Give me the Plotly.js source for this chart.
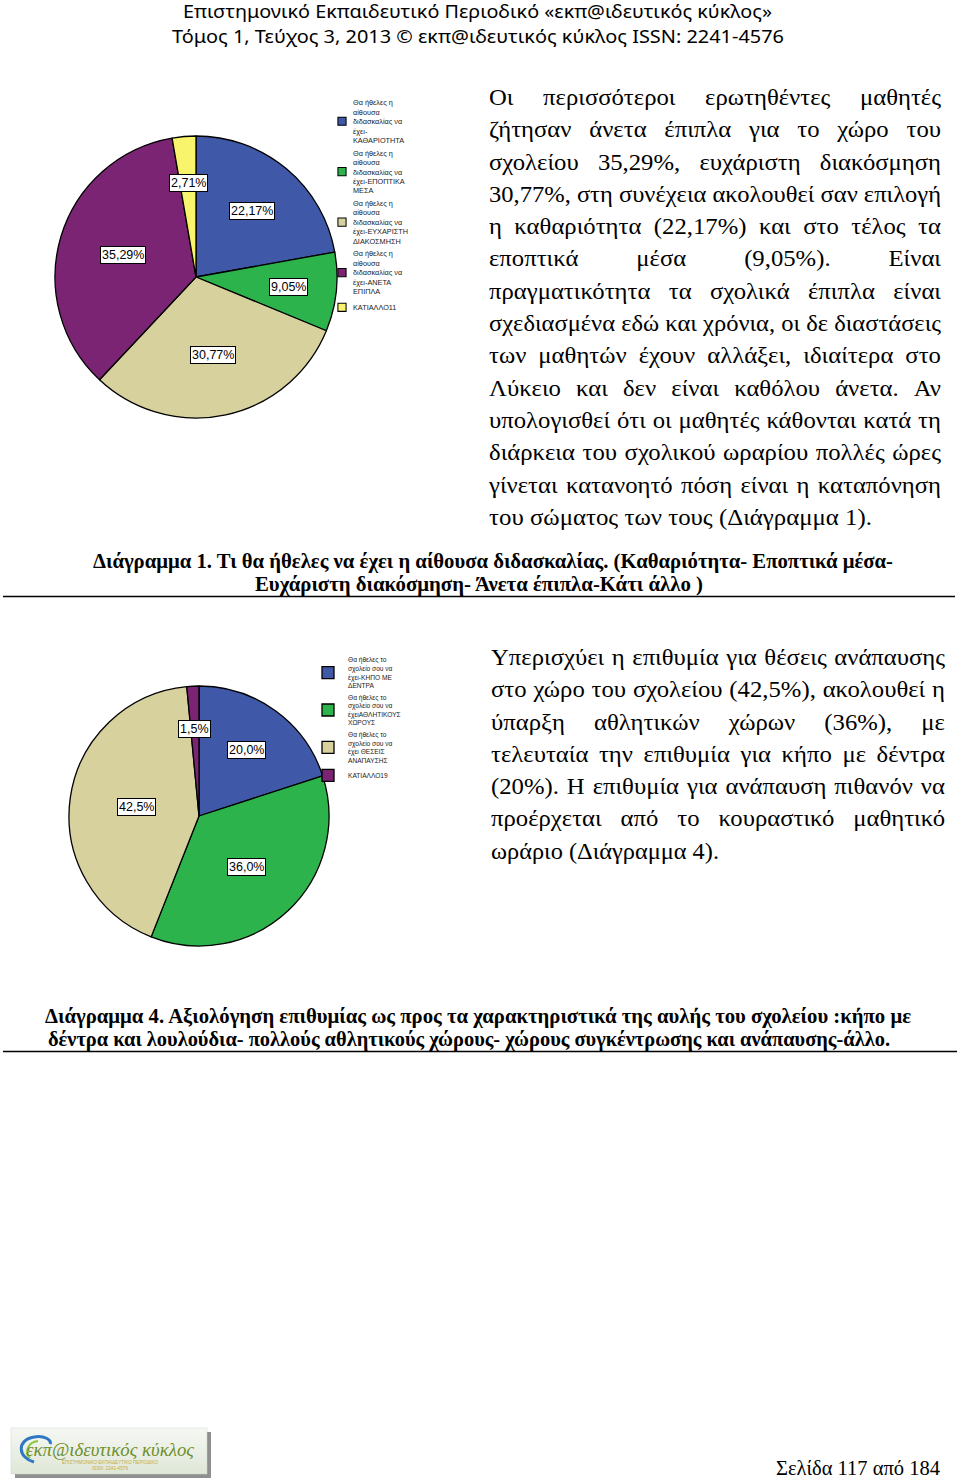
<!DOCTYPE html>
<html lang="el">
<head>
<meta charset="utf-8">
<title>Διάγραμμα 1 και Διάγραμμα 4</title>
<script src="https://cdn.plot.ly/plotly-3.0.1.min.js"></script>
<style>
html,body{margin:0;padding:0;background:#fff;}
#page{position:relative;width:960px;height:1481px;overflow:hidden;background:#fff;}
#chart{position:absolute;left:0;top:0;width:960px;height:1481px;}
#overlay{position:absolute;left:0;top:0;pointer-events:none;}
</style>
</head>
<body>
<div id="page">
  <div id="chart"></div>
  <svg id="overlay" width="960" height="1481" xmlns="http://www.w3.org/2000/svg"></svg>
</div>
<script>
// ---------------- DATA ----------------
const pie1Labels = [
  'Θα ήθελες η<br>αίθουσα<br>διδασκαλίας να<br>έχει-<br>ΚΑΘΑΡΙΟΤΗΤΑ',
  'Θα ήθελες η<br>αίθουσα<br>διδασκαλίας να<br>έχει-ΕΠΟΠΤΙΚΑ<br>ΜΕΣΑ',
  'Θα ήθελες η<br>αίθουσα<br>διδασκαλίας να<br>έχει-ΕΥΧΑΡΙΣΤΗ<br>ΔΙΑΚΟΣΜΗΣΗ',
  'Θα ήθελες η<br>αίθουσα<br>διδασκαλίας να<br>έχει-ΑΝΕΤΑ<br>ΕΠΙΠΛΑ',
  'ΚΑΤΙΑΛΛΟ11'
];
const pie1Values = [22.17, 9.05, 30.77, 35.29, 2.71];

const pie2Labels = [
  'Θα ήθελες το<br>σχολείο σου να<br>έχει-ΚΗΠΟ ΜΕ<br>ΔΕΝΤΡΑ',
  'Θα ήθελες το<br>σχολείο σου να<br>έχειΑΘΛΗΤΙΚΟΥΣ<br>ΧΩΡΟΥΣ',
  'Θα ήθελες το<br>σχολείο σου να<br>έχει ΘΕΣΕΙΣ<br>ΑΝΑΠΑΥΣΗΣ',
  'ΚΑΤΙΑΛΛΟ19'
];
const pie2Values = [20.0, 36.0, 42.5, 1.5];

const headerLines = [
  'Επιστημονικό Εκπαιδευτικό Περιοδικό «εκπ@ιδευτικός κύκλος»',
  'Τόμος 1, Τεύχος 3, 2013 © εκπ@ιδευτικός κύκλος ISSN: 2241-4576'
];
const para1Lines = [
  'Οι περισσότεροι ερωτηθέντες μαθητές',
  'ζήτησαν άνετα έπιπλα για το χώρο του',
  'σχολείου 35,29%, ευχάριστη διακόσμηση',
  '30,77%, στη συνέχεια ακολουθεί σαν επιλογή',
  'η καθαριότητα (22,17%) και  στο τέλος τα',
  'εποπτικά μέσα (9,05%). Είναι',
  'πραγματικότητα τα σχολικά έπιπλα είναι',
  'σχεδιασμένα εδώ και χρόνια, οι δε διαστάσεις',
  'των μαθητών έχουν αλλάξει,  ιδιαίτερα στο',
  'Λύκειο και δεν είναι καθόλου άνετα. Αν',
  'υπολογισθεί ότι οι μαθητές κάθονται κατά τη',
  'διάρκεια του σχολικού ωραρίου πολλές ώρες',
  'γίνεται κατανοητό πόση είναι  η καταπόνηση',
  'του  σώματος των τους (Διάγραμμα 1).'
];
const caption1Lines = [
  'Διάγραμμα  1. Τι θα ήθελες να έχει η αίθουσα  διδασκαλίας. (Καθαριότητα- Εποπτικά μέσα-',
  'Ευχάριστη διακόσμηση-  Άνετα έπιπλα-Κάτι άλλο )'
];
const para2Lines = [
  'Υπερισχύει η επιθυμία για  θέσεις ανάπαυσης',
  'στο χώρο του σχολείου (42,5%), ακολουθεί η',
  'ύπαρξη αθλητικών χώρων (36%), με',
  'τελευταία την επιθυμία για κήπο με δέντρα',
  '(20%). Η επιθυμία για ανάπαυση πιθανόν να',
  'προέρχεται από το κουραστικό μαθητικό',
  'ωράριο (Διάγραμμα 4).'
];
const caption2Lines = [
  'Διάγραμμα  4. Αξιολόγηση  επιθυμίας ως προς τα χαρακτηριστικά της αυλής του σχολείου :κήπο με',
  'δέντρα και λουλούδια- πολλούς αθλητικούς χώρους- χώρους συγκέντρωσης και ανάπαυσης-άλλο.'
];
const footerText = 'Σελίδα 117 από 184';
const logoTitle = 'εκπ@ιδευτικός κύκλος';
const logoSub = 'ΕΠΙΣΤΗΜΟΝΙΚΟ ΕΚΠΑΙΔΕΥΤΙΚΟ ΠΕΡΙΟΔΙΚΟ';
const logoSub2 = 'ISSN: 2241-4576';

// ---------------- STYLE / GEOMETRY ----------------
const W = 960, H = 1481;
const COLORS1 = ['#3F58A7', '#2DB34B', '#D6D19D', '#7B2473', '#F8F46C'];
const COLORS2 = ['#3F58A7', '#2DB34B', '#D6D19D', '#7B2473'];
const G1 = {cx: 196, cy: 277, r: 141, dec: 2};
const G2 = {cx: 199, cy: 816, r: 130, dec: 1};
const SANS = 'Liberation Sans, Arial, sans-serif';
const SERIF = 'Liberation Serif, Times New Roman, serif';

function domainOf(g) {
  return {x: [(g.cx - g.r) / W, (g.cx + g.r) / W],
          y: [1 - (g.cy + g.r) / H, 1 - (g.cy - g.r) / H]};
}
function fmt(v, dec) { return v.toFixed(dec).replace('.', ',') + '%'; }

// slice labels placed at each slice's centroid (derived from the values)
function sliceLabels(values, g) {
  const total = values.reduce((a, b) => a + b, 0);
  let cum = 0;
  return values.map(v => {
    const half = Math.PI * v / total;
    const mid = 2 * Math.PI * (cum + v / 2) / total;
    cum += v;
    const d = (2 / 3) * g.r * Math.sin(half) / half;
    const px = g.cx + d * Math.sin(mid);
    const py = g.cy - d * Math.cos(mid);
    return {
      x: px / W, y: 1 - py / H, xref: 'paper', yref: 'paper',
      xanchor: 'center', yanchor: 'middle', showarrow: false,
      text: fmt(v, g.dec),
      font: {family: SANS, size: 12.5, color: '#000'},
      bgcolor: '#ffffff', bordercolor: '#000', borderwidth: 1, borderpad: 1
    };
  });
}

const traces = [
  {
    type: 'pie', labels: pie1Labels, values: pie1Values, sort: false,
    direction: 'clockwise', rotation: 0, textinfo: 'none', hoverinfo: 'skip',
    marker: {colors: COLORS1, line: {color: '#000', width: 1.3}},
    domain: domainOf(G1), legend: 'legend'
  },
  {
    type: 'pie', labels: pie2Labels, values: pie2Values, sort: false,
    direction: 'clockwise', rotation: 0, textinfo: 'none', hoverinfo: 'skip',
    marker: {colors: COLORS2, line: {color: '#000', width: 1.3}},
    domain: domainOf(G2), legend: 'legend2'
  }
];

const layout = {
  width: W, height: H,
  margin: {l: 0, r: 0, t: 0, b: 0},
  paper_bgcolor: 'rgba(0,0,0,0)',
  font: {family: SANS},
  showlegend: true,
  legend: {x: 313 / W, y: 1 - 91 / H, xanchor: 'left', yanchor: 'top',
           font: {family: SANS, size: 7.3, color: '#1a1a1a'},
           bgcolor: 'rgba(0,0,0,0)', itemwidth: 30, tracegroupgap: 0},
  legend2: {x: 308 / W, y: 1 - 649 / H, xanchor: 'left', yanchor: 'top',
            font: {family: SANS, size: 6.6, color: '#1a1a1a'},
            bgcolor: 'rgba(0,0,0,0)', itemwidth: 30, tracegroupgap: 0},
  annotations: sliceLabels(pie1Values, G1).concat(sliceLabels(pie2Values, G2))
};

// ---------------- PAGE TEXT (SVG overlay) ----------------
const NS = 'http://www.w3.org/2000/svg';
const svg = document.getElementById('overlay');
function mk(tag, attrs, parent) {
  const e = document.createElementNS(NS, tag);
  for (const k in attrs) e.setAttribute(k, attrs[k]);
  if (parent) parent.appendChild(e);
  return e;
}
function textLine(str, x, y, o) {
  const sx = o.sx || 1;
  const t = mk('text', {x: x, y: y, 'font-family': o.family, 'font-size': o.size,
    'font-weight': o.weight || 'normal', 'font-style': o.style || 'normal',
    fill: o.fill || '#000'}, svg);
  if (sx !== 1) t.setAttribute('transform', 'matrix(' + sx + ',0,0,1,' + (x * (1 - sx)) + ',0)');
  const width = o.width / sx;
  t.textContent = str.replace(/\s+/g, ' ').trim();
  const w = t.getComputedTextLength();
  if (o.mode === 'fit' || (o.mode === 'justify' && w > width)) {
    t.setAttribute('textLength', width);
    t.setAttribute('lengthAdjust', 'spacingAndGlyphs');
  } else if (o.mode === 'justify') {
    const words = str.trim().split(/\s+/);
    t.textContent = '';
    const spans = words.map(wd => { const s = mk('tspan', {}, t); s.textContent = wd; return s; });
    const widths = spans.map(s => s.getComputedTextLength());
    const sum = widths.reduce((a, b) => a + b, 0);
    const gap = (width - sum) / (words.length - 1);
    let cx = x;
    spans.forEach((s, i) => { s.setAttribute('x', cx); cx += widths[i] + gap; });
  }
  return t;
}
function paragraph(lines, x, base, pitch, width, size, lastWidth) {
  lines.forEach((ln, i) => {
    const last = i === lines.length - 1;
    textLine(ln, x, base + i * pitch, {family: SERIF, size: size, sx: 1.075,
      mode: last ? 'fit' : 'justify', width: last ? lastWidth : width});
  });
}

function drawPage() {
  // header
  textLine(headerLines[0], 183, 18, {family: 'Noto Sans, sans-serif', size: 18, mode: 'fit', width: 589});
  textLine(headerLines[1], 172, 43, {family: 'Noto Sans, sans-serif', size: 18, mode: 'fit', width: 612});
  // paragraph 1
  paragraph(para1Lines, 489, 105, 32.3, 452, 23, 383);
  // caption 1
  textLine(caption1Lines[0], 93, 568, {family: SERIF, size: 20, weight: 'bold', mode: 'fit', width: 800});
  textLine(caption1Lines[1], 255, 591, {family: SERIF, size: 20, weight: 'bold', mode: 'fit', width: 448});
  mk('line', {x1: 3, y1: 596.5, x2: 955, y2: 596.5, stroke: '#000', 'stroke-width': 1.6}, svg);
  // paragraph 2
  paragraph(para2Lines, 491, 665, 32.3, 454, 23, 228);
  // caption 2
  textLine(caption2Lines[0], 45, 1023, {family: SERIF, size: 20, weight: 'bold', mode: 'fit', width: 866});
  textLine(caption2Lines[1], 48, 1046, {family: SERIF, size: 20, weight: 'bold', mode: 'fit', width: 842});
  mk('line', {x1: 3, y1: 1051.5, x2: 957, y2: 1051.5, stroke: '#000', 'stroke-width': 1.6}, svg);
  // footer
  textLine(footerText, 776, 1475, {family: SERIF, size: 20, mode: 'fit', width: 164});
  // logo
  const defs = mk('defs', {}, svg);
  const lg = mk('linearGradient', {id: 'lg', x1: 0, y1: 0, x2: 0, y2: 1}, defs);
  mk('stop', {offset: '0', 'stop-color': '#f6f8f3'}, lg);
  mk('stop', {offset: '1', 'stop-color': '#dfe7d8'}, lg);
  mk('rect', {x: 15, y: 1432, width: 196, height: 46, fill: '#8f8f8f'}, svg);
  mk('rect', {x: 11, y: 1428, width: 196, height: 46, fill: 'url(#lg)', stroke: '#d0d6ca', 'stroke-width': 0.5}, svg);
  mk('path', {d: 'M34,1462 C18,1458 16,1440 34,1437 C44,1435 52,1440 50,1444', fill: 'none', stroke: '#2f78c4', 'stroke-width': 3}, svg);
  mk('path', {d: 'M30,1458 C24,1452 28,1442 38,1441', fill: 'none', stroke: '#8dc63f', 'stroke-width': 2}, svg);
  textLine(logoTitle, 26, 1456, {family: SERIF, size: 18, style: 'italic', fill: '#6f8f2a', mode: 'fit', width: 168});
  textLine(logoSub, 62, 1464, {family: SANS, size: 4.5, fill: '#c8a93a', mode: 'fit', width: 96});
  textLine(logoSub2, 92, 1470, {family: SANS, size: 4.5, fill: '#c8a93a', mode: 'fit', width: 36});
}

function tweakLegendSymbols(gd) {
  // shrink the legend swatches toward their label, as in the original SPSS legend
  gd.querySelectorAll('.legend .legendpie').forEach(p => {
    p.setAttribute('transform', 'translate(29,0) scale(0.68)');
    p.style.strokeWidth = '1.5px';
  });
}

(document.fonts ? document.fonts.ready : Promise.resolve()).then(() => {
  Plotly.newPlot('chart', traces, layout, {displayModeBar: false, staticPlot: true})
    .then(gd => tweakLegendSymbols(gd));
  drawPage();
});
</script>
</body>
</html>
